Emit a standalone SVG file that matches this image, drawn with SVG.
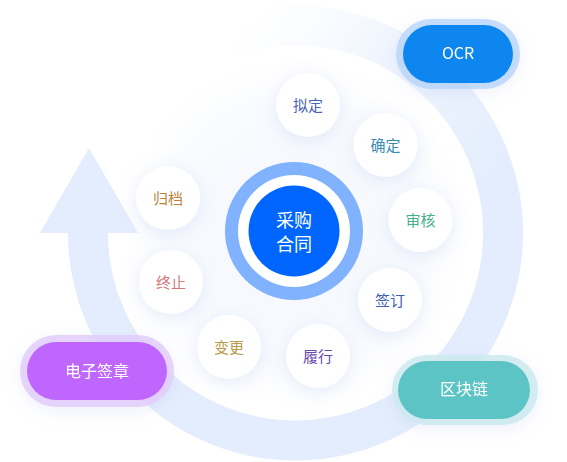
<svg xmlns="http://www.w3.org/2000/svg" width="567" height="462" viewBox="0 0 567 462">
<style>
.lbl{font-family:"Noto Sans CJK SC","Noto Sans",sans-serif;font-size:15px;text-anchor:middle}
.pill{font-family:"Noto Sans CJK SC","Noto Sans",sans-serif;font-size:16px;fill:#ffffff;text-anchor:middle}
.ctr{font-family:"Noto Sans CJK SC","Noto Sans",sans-serif;font-size:18px;fill:#ffffff;text-anchor:middle}
.node{fill:#ffffff;filter:url(#sh)}
</style>
<defs>
<filter id="sh" x="-80%" y="-80%" width="260%" height="260%">
<feDropShadow dx="0" dy="4" stdDeviation="9" flood-color="#8fa9e6" flood-opacity="0.22"/>
</filter>
<filter id="psh" x="-40%" y="-60%" width="180%" height="220%">
<feDropShadow dx="0" dy="4" stdDeviation="8" flood-color="#8fa9e6" flood-opacity="0.18"/>
</filter>
<linearGradient id="fade" gradientUnits="userSpaceOnUse" x1="480" y1="200" x2="250" y2="10">
<stop offset="0" stop-color="#e3edfd" stop-opacity="1"/>
<stop offset="0.55" stop-color="#e8f0fd" stop-opacity="0.7"/>
<stop offset="1" stop-color="#f3f7fe" stop-opacity="0"/>
</linearGradient>
<radialGradient id="glow" cx="0.5" cy="0.5" r="0.5">
<stop offset="0" stop-color="#f3f6fe" stop-opacity="1"/>
<stop offset="0.7" stop-color="#f8fafe" stop-opacity="0.8"/>
<stop offset="1" stop-color="#ffffff" stop-opacity="0"/>
</radialGradient>
</defs>
<rect width="567" height="462" fill="#ffffff"/>
<circle cx="295" cy="233" r="190" fill="url(#glow)"/>
<g id="connectors">
<path d="M88 233 A207.5 207.5 0 0 0 503 233" fill="none" stroke="#e4edfd" stroke-width="40"/>
<path d="M503 233 A207.5 207.5 0 0 0 224.5 38" fill="none" stroke="url(#fade)" stroke-width="40"/>
<polygon points="89,148 40,233 138,233" fill="#e4edfd"/>
</g>
<g id="center">
<circle cx="294" cy="231" r="69" fill="#80b2fd"/>
<circle cx="294" cy="231" r="56" fill="#ffffff"/>
<circle cx="294" cy="231" r="45.5" fill="#0066ff"/>
<text class="ctr" x="294" y="227">采购</text>
<text class="ctr" x="294" y="251">合同</text>
</g>
<g id="n-niding"><circle class="node" cx="308" cy="105" r="32"/><text class="lbl" x="308" y="111" fill="#4a63b5">拟定</text></g>
<g id="n-queding"><circle class="node" cx="385.5" cy="145" r="32"/><text class="lbl" x="385.5" y="151" fill="#3a8bb3">确定</text></g>
<g id="n-shenhe"><circle class="node" cx="420.5" cy="220" r="32"/><text class="lbl" x="420.5" y="226" fill="#45af8c">审核</text></g>
<g id="n-qianding"><circle class="node" cx="390" cy="300" r="32"/><text class="lbl" x="390" y="306" fill="#3f5fb0">签订</text></g>
<g id="n-lvxing"><circle class="node" cx="318" cy="356" r="32"/><text class="lbl" x="318" y="362" fill="#6a4aa8">履行</text></g>
<g id="n-biangeng"><circle class="node" cx="229" cy="347" r="32"/><text class="lbl" x="229" y="353" fill="#b89a48">变更</text></g>
<g id="n-zhongzhi"><circle class="node" cx="171" cy="282" r="32"/><text class="lbl" x="171" y="288" fill="#d27a7a">终止</text></g>
<g id="n-guidang"><circle class="node" cx="168" cy="198" r="32"/><text class="lbl" x="168" y="204" fill="#c27f3c">归档</text></g>
<g id="p-ocr" filter="url(#psh)">
<rect x="396" y="19" width="124" height="70" rx="35" fill="#b4d3fa" fill-opacity="0.75"/>
<rect x="403" y="25" width="110" height="58" rx="29" fill="#0b87ef"/>
<text class="pill" x="458" y="59" font-family="Inter,'Noto Sans',sans-serif">OCR</text>
</g>
<g id="p-esign" filter="url(#psh)">
<rect x="20" y="335" width="154" height="72" rx="36" fill="#e2cdfb" fill-opacity="0.85"/>
<rect x="27" y="342" width="140" height="58" rx="29" fill="#bf66fe"/>
<text class="pill" x="97" y="377">电子签章</text>
</g>
<g id="p-chain" filter="url(#psh)">
<rect x="392" y="355" width="146" height="70" rx="35" fill="#cdeaee" fill-opacity="0.85"/>
<rect x="398" y="361" width="132" height="58" rx="29" fill="#5cc4c4"/>
<text class="pill" x="464" y="395">区块链</text>
</g>
</svg>
